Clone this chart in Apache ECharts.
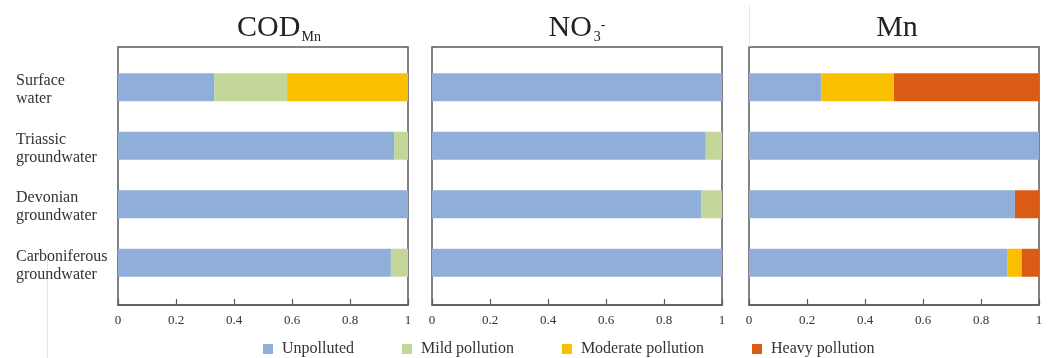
<!DOCTYPE html>
<html><head><meta charset="utf-8">
<script src="https://cdn.jsdelivr.net/npm/echarts@6/dist/echarts.min.js"></script>
<style>html,body{margin:0;padding:0;background:#fff}#c{width:1051px;height:358px}</style>
</head><body><div id="c"></div>
<script>
const categories = ['Surface\nwater', 'Triassic\ngroundwater', 'Devonian\ngroundwater', 'Carboniferous\ngroundwater'];
const levels = ['Unpolluted', 'Mild pollution', 'Moderate pollution', 'Heavy pollution'];
const xTicks = [0, 0.2, 0.4, 0.6, 0.8, 1];

const codUnpolluted = [0.333, 0.952, 1.0, 0.941];
const codMild       = [0.250, 0.048, 0.0, 0.059];
const codModerate   = [0.417, 0.0, 0.0, 0.0];
const codHeavy      = [0.0, 0.0, 0.0, 0.0];

const no3Unpolluted = [1.0, 0.944, 0.929, 1.0];
const no3Mild       = [0.0, 0.056, 0.071, 0.0];
const no3Moderate   = [0.0, 0.0, 0.0, 0.0];
const no3Heavy      = [0.0, 0.0, 0.0, 0.0];

const mnUnpolluted  = [0.25, 1.0, 0.917, 0.892];
const mnMild        = [0.0, 0.0, 0.0, 0.0];
const mnModerate    = [0.25, 0.0, 0.0, 0.048];
const mnHeavy       = [0.50, 0.0, 0.083, 0.060];

const colors = ['#8FAFD8', '#C4D79B', '#F9BF00', '#DA5B13'];
const panels = [
  {left: 118, data: [codUnpolluted, codMild, codModerate, codHeavy]},
  {left: 432, data: [no3Unpolluted, no3Mild, no3Moderate, no3Heavy]},
  {left: 749, data: [mnUnpolluted, mnMild, mnModerate, mnHeavy]}
];
const PW = 290;
const SERIF = '"Liberation Serif", "DejaVu Serif", serif';
const labelRich = {
  e: {fontFamily: SERIF, fontSize: 1, lineHeight: 6, color: '#333'},
  a: {fontFamily: SERIF, fontSize: 16, lineHeight: 18, color: '#333'}
};

const grid = [], xAxis = [], yAxis = [], series = [];
panels.forEach((p, i) => {
  grid.push({left: p.left, width: PW, top: 47, height: 258, show: true, borderColor: '#5a5a5a', borderWidth: 1.5, backgroundColor: 'transparent'});
  xAxis.push({gridIndex: 2*i, type: 'value', min: xTicks[0], max: xTicks[xTicks.length-1], interval: 0.2,
    axisLine: {show: true, lineStyle: {color: '#5a5a5a', width: 1.5}},
    axisTick: {show: true, inside: true, length: 6, lineStyle: {color: '#5a5a5a', width: 1.2}},
    splitLine: {show: false},
    axisLabel: {fontFamily: SERIF, fontSize: 13, color: '#333', margin: 9}});
  yAxis.push({gridIndex: 2*i, type: 'value', show: false, min: 0, max: 1});
  grid.push({left: p.left, width: PW, top: 58, height: 234});
  xAxis.push({gridIndex: 2*i+1, type: 'value', min: 0, max: 1, show: false});
  yAxis.push({gridIndex: 2*i+1, type: 'category', data: categories, inverse: true,
    axisLine: {show: false}, axisTick: {show: false},
    axisLabel: {show: i === 0, align: 'left', margin: 102, fontFamily: SERIF, fontSize: 16, lineHeight: 18, color: '#333',
      formatter: v => { const parts = v.split('\n'); return '{e| }\n{a|' + parts[0] + '}\n{a|' + parts[1] + '}'; },
      rich: labelRich}});
  p.data.forEach((vals, k) => {
    series.push({type: 'bar', name: levels[k], xAxisIndex: 2*i+1, yAxisIndex: 2*i+1,
      stack: 'p' + i, data: vals, barWidth: 28, itemStyle: {color: colors[k]}, silent: true});
  });
});

const titleStyle = {
  a: {fontSize: 30, fontFamily: SERIF, fill: '#222', lineHeight: 30},
  b: {fontSize: 14, fontFamily: SERIF, fill: '#222', verticalAlign: 'bottom', lineHeight: 14, padding: [0,0,-1,1]},
  s: {fontSize: 14, fontFamily: SERIF, fill: '#222', verticalAlign: 'bottom', lineHeight: 14, padding: [0,0,-1,2]},
  p: {fontSize: 14, fontFamily: SERIF, fill: '#222', verticalAlign: 'top', lineHeight: 14, padding: [5,0,0,0]}
};
function title(x, text) {
  return {type: 'text', x: x, y: 28, style: {text: text, rich: titleStyle, align: 'center', verticalAlign: 'middle', font: '30px ' + SERIF, fill: '#222'}};
}

const chart = echarts.init(document.getElementById('c'), null, {renderer: 'canvas'});
chart.setOption({
  animation: false,
  backgroundColor: '#fff',
  color: colors,
  grid, xAxis, yAxis, series,
  legend: {data: levels, left: 263, top: 341, padding: 0, icon: 'rect', itemWidth: 10, itemHeight: 10, itemGap: 48,
    formatter: n => ' ' + n,
    textStyle: {fontFamily: SERIF, fontSize: 16, color: '#333'}},
  graphic: [
    title(279, '{a|COD}{b|Mn}'),
    title(577, '{a|NO}{s|3}{p|-}'),
    title(897, '{a|Mn}'),
    {type: 'line', shape: {x1: 47.5, y1: 250, x2: 47.5, y2: 358}, style: {stroke: '#e6e6e6', lineWidth: 1}},
    {type: 'line', shape: {x1: 749.5, y1: 6, x2: 749.5, y2: 47}, style: {stroke: '#e6e6e6', lineWidth: 1}}
  ]
});
</script></body></html>
